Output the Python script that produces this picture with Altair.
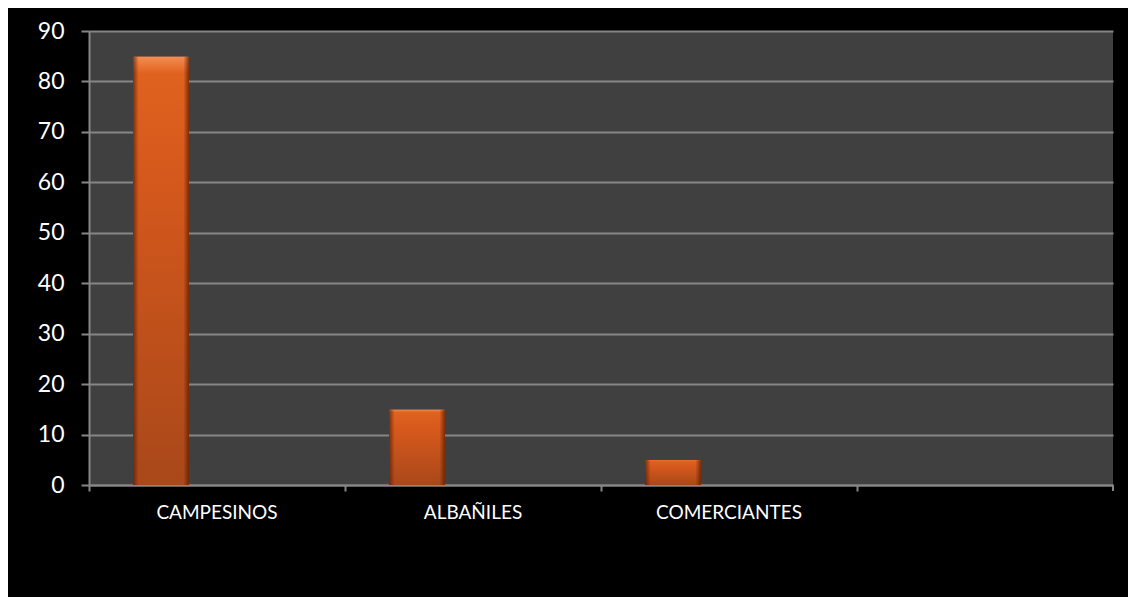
import altair as alt
import pandas as pd

categorias = ["CAMPESINOS", "ALBAÑILES", "COMERCIANTES", ""]
valores = [85, 15, 5]
series_dominio = ["Serie 1", "Serie 2", "Serie 3"]
serie_datos = ["Serie 1", "Serie 1", "Serie 1"]
y_ticks = [0, 10, 20, 30, 40, 50, 60, 70, 80, 90]

df = pd.DataFrame({"cat": categorias[:3], "valor": valores, "serie": serie_datos})

GRIS = "#868686"

x_scale = alt.Scale(domain=categorias, paddingInner=0, paddingOuter=0)
x_axis = alt.Axis(
    title=None,
    labelAngle=0,
    labelColor="#ffffff",
    labelFont="Lato",
    labelFontSize=19,
    labelPadding=12,
    bandPosition=0,
    tickSize=6,
    tickColor=GRIS,
    tickWidth=2,
    domainColor=GRIS,
    domainWidth=2,
    grid=False,
)
x_enc = alt.X("cat:N", scale=x_scale, sort=categorias, axis=x_axis)
xoff = alt.XOffset(
    "serie:N",
    scale=alt.Scale(domain=series_dominio, paddingInner=0, paddingOuter=0.786),
)
y_enc = alt.Y(
    "valor:Q",
    scale=alt.Scale(domain=[0, 90], nice=False),
    axis=alt.Axis(
        title=None,
        values=y_ticks,
        labelColor="#ffffff",
        labelFont="Lato",
        labelFontSize=23,
        labelPadding=17,
        tickSize=8,
        tickColor=GRIS,
        tickWidth=2,
        domainColor=GRIS,
        domainWidth=2,
        grid=True,
        gridColor=GRIS,
        gridWidth=2,
    ),
)

grad_v = alt.Gradient(
    gradient="linear",
    x1=0, x2=0, y1=0, y2=1,
    stops=[
        alt.GradientStop(color="#F58E52", offset=0),
        alt.GradientStop(color="#E0621F", offset=0.04),
        alt.GradientStop(color="#D4581C", offset=0.3),
        alt.GradientStop(color="#A9481A", offset=1),
    ],
)
grad_h = alt.Gradient(
    gradient="linear",
    x1=0, x2=1, y1=0, y2=0,
    stops=[
        alt.GradientStop(color="rgba(80,25,0,0.7)", offset=0),
        alt.GradientStop(color="rgba(80,25,0,0)", offset=0.1),
        alt.GradientStop(color="rgba(80,25,0,0)", offset=0.9),
        alt.GradientStop(color="rgba(80,25,0,0.7)", offset=1),
    ],
)

base = alt.Chart(df).encode(x=x_enc, xOffset=xoff, y=y_enc)
bar1 = base.mark_bar(color=grad_v, cornerRadiusTopLeft=2, cornerRadiusTopRight=2)
bar2 = base.mark_bar(color=grad_h, cornerRadiusTopLeft=2, cornerRadiusTopRight=2)

tick_df = pd.DataFrame({"cat": [categorias[-1]]})
last_tick = alt.Chart(tick_df).mark_rule(color=GRIS, strokeWidth=2).encode(
    x=alt.X("cat:N", scale=x_scale, sort=categorias, bandPosition=1, axis=x_axis),
    y=alt.value(454),
    y2=alt.value(460),
)

chart = (
    alt.layer(bar1, bar2, last_tick)
    .properties(
        width=1024,
        height=454,
        background="#000000",
        padding={"left": 81, "top": 23, "right": 15, "bottom": 112},
        autosize=alt.AutoSizeParams(type="none"),
    )
    .configure_view(fill="#404040", stroke=None)
)

chart.save("out.html", embed_options={"renderer": "svg", "actions": False})
